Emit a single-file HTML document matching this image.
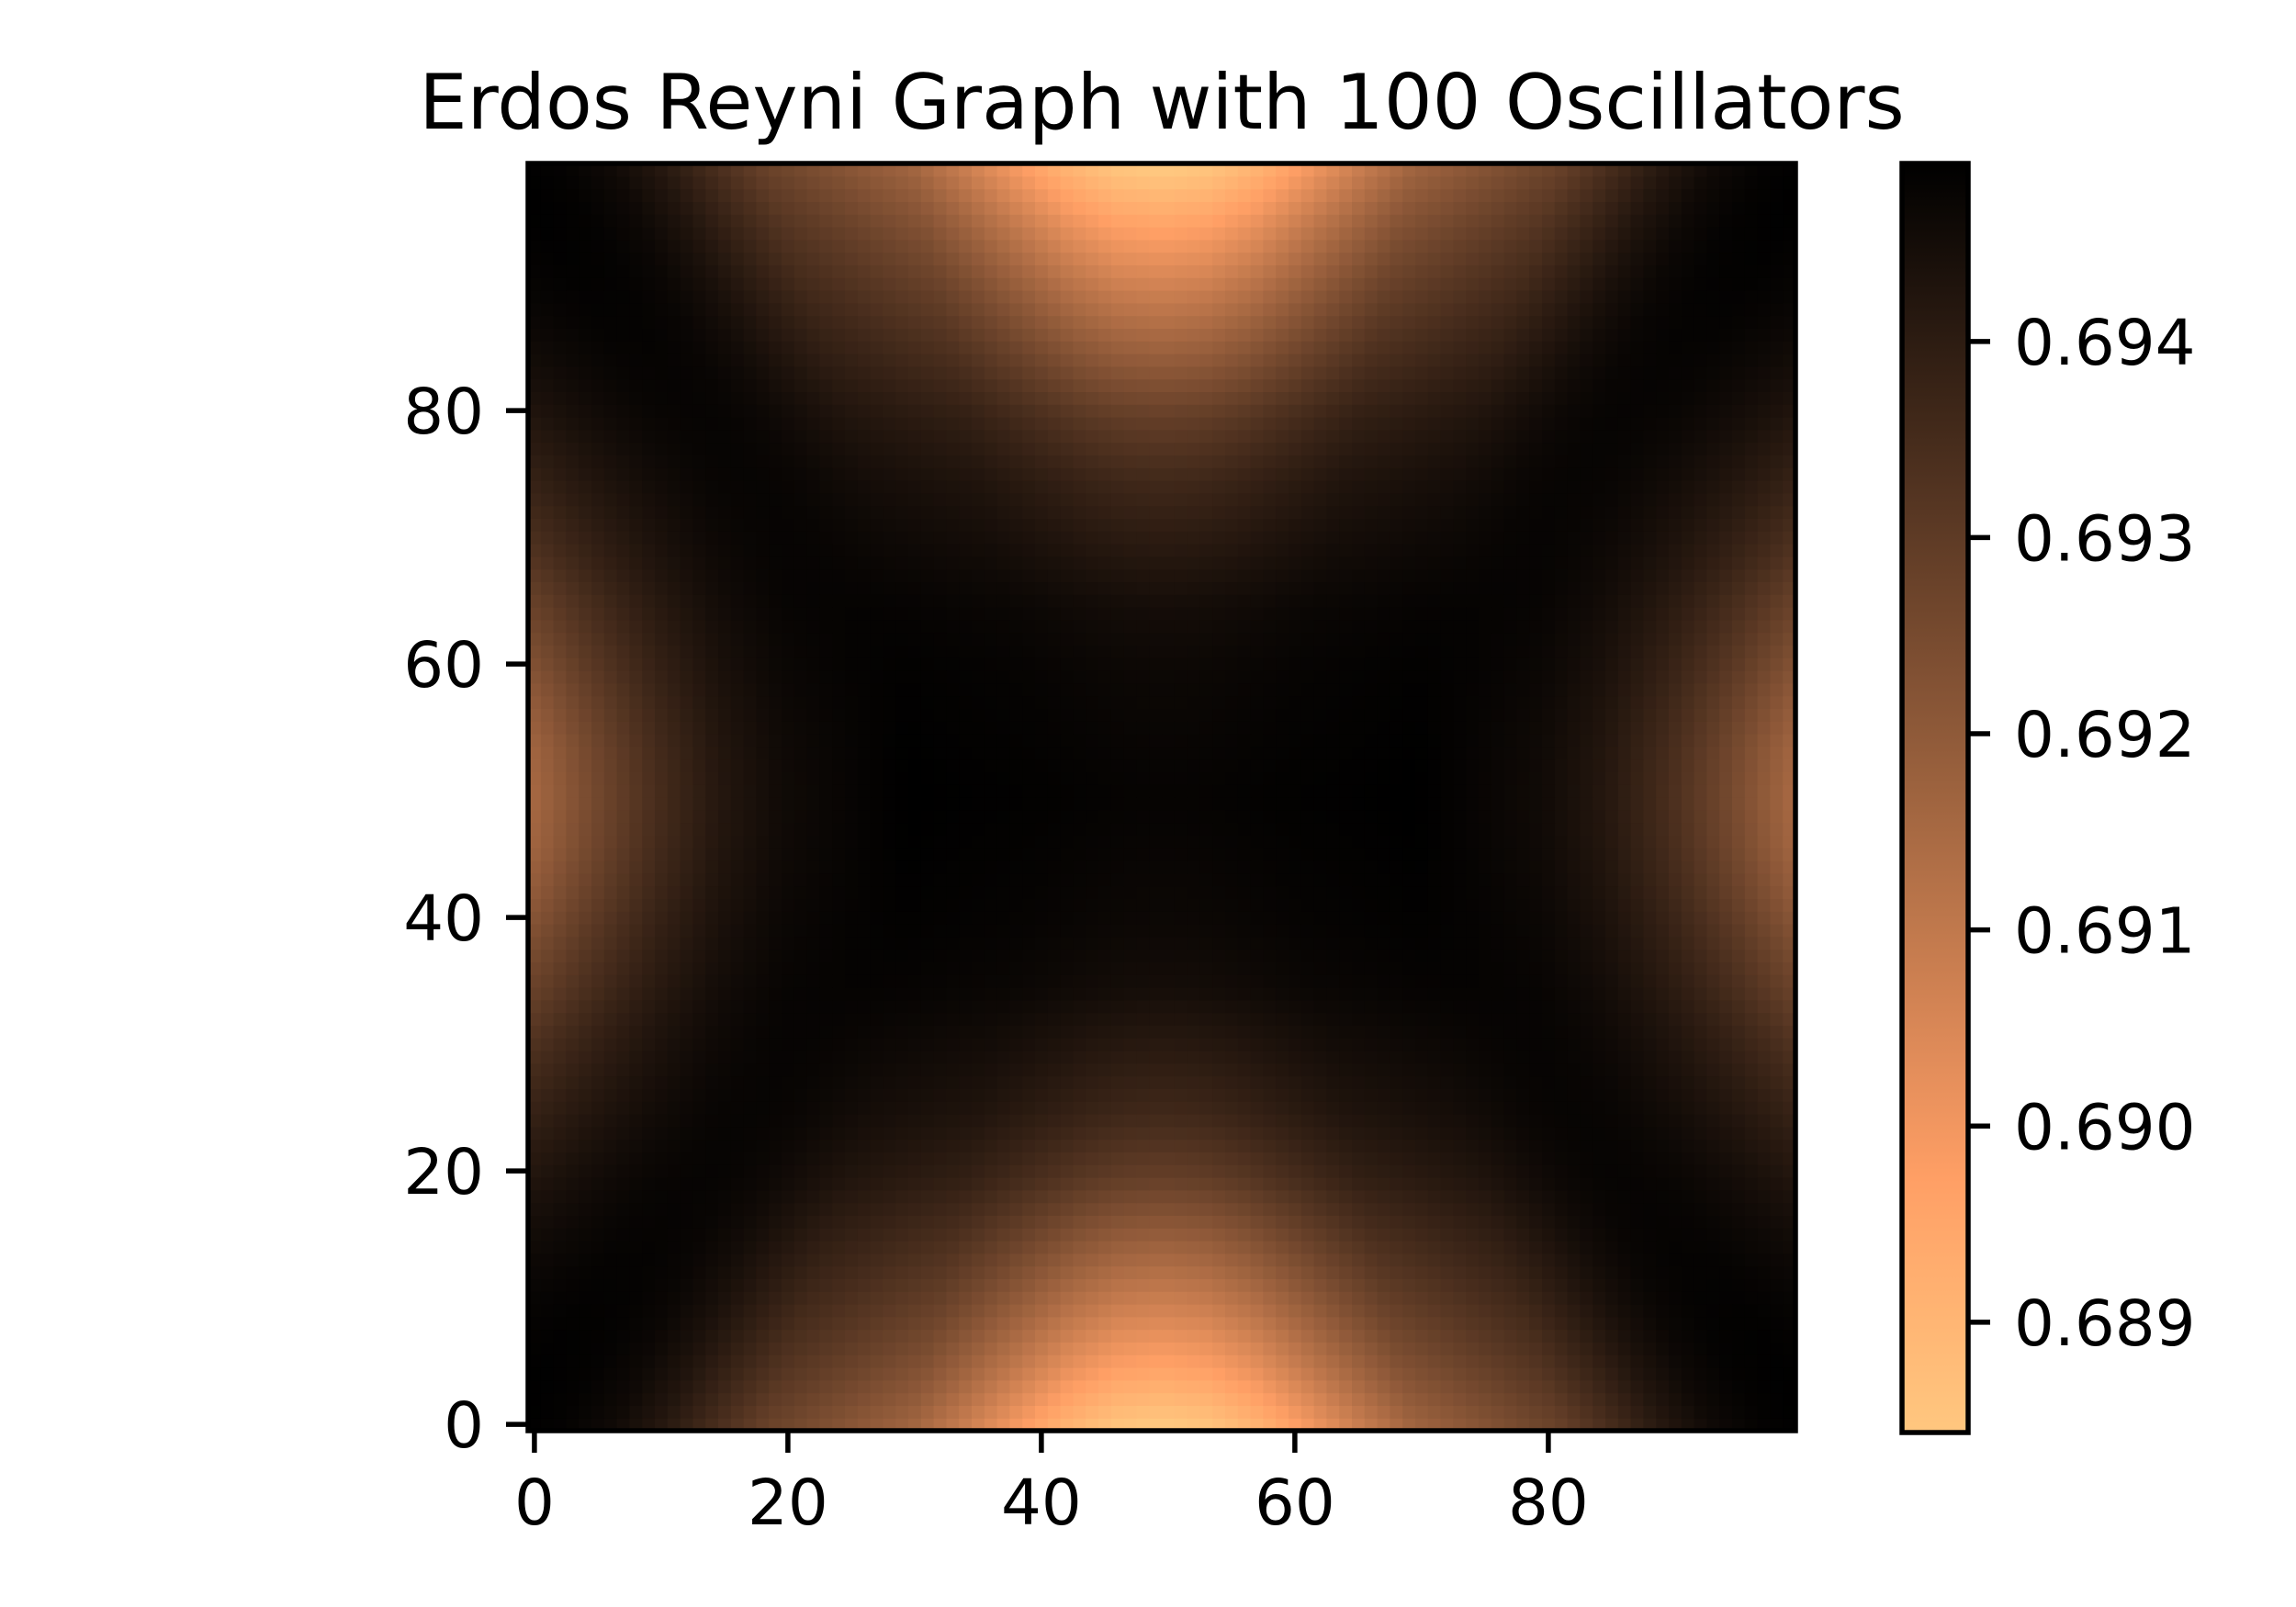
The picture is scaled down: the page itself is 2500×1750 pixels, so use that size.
<!DOCTYPE html>
<html><head><meta charset="utf-8"><style>
html,body{margin:0;padding:0;background:#fff;}
svg{display:block;font-family:"DejaVu Sans","Liberation Sans",sans-serif;}
</style></head><body>
<svg id="chart" width="2500" height="1750" viewBox="0 0 2500 1750" xmlns="http://www.w3.org/2000/svg">
<defs><linearGradient id="cbgrad" x1="0" y1="1" x2="0" y2="0"></linearGradient></defs>
<text x="1265" y="140" font-size="83" text-anchor="middle" fill="#000">Erdos Reyni Graph with 100 Oscillators</text>
<g id="cells"></g>
<g id="axes"></g>
<g id="cbar"></g>
</svg>
<script>
// Profiles.
// top/bottom lobe: strength vs distance from centre row (steps of 5 cells), and shape across (steps of 0.1 of lobe half-width)
const tbStrength = [0.02,0.03,0.04,0.065,0.13,0.2,0.31,0.47,0.63,0.8,1];
const tbShape = [1,0.97,0.88,0.75,0.62,0.5,0.44,0.38,0.32,0.22,0.12,0.05,0.015,0];
// left/right lobe: strength vs distance from centre column, and shape along
const lrStrength = [0,0,0,0,0,0.05,0.1,0.22,0.43,0.7,1];
const lrShape = [1,0.96,0.86,0.73,0.61,0.47,0.36,0.26,0.17,0.1,0.05,0.02,0.005,0];
const baseValue = 0.69492;
const lobeDepth = 0.00664;
const sideLobeRatio = 0.52;
const gridSize = 100;
const xTicks = [0,20,40,60,80];
const yTicks = [0,20,40,60,80];
const cbTicks = [0.689,0.690,0.691,0.692,0.693,0.694];
const cbTickLabels = ["0.689","0.690","0.691","0.692","0.693","0.694"];

const N = gridSize, c = (N-1)/2;
function look(tab,p){ p=Math.max(0,p); if(p>=tab.length-1) return tab[tab.length-1];
  const i=Math.floor(p), f=p-i; return tab[i]*(1-f)+tab[i+1]*f; }
const halfWidth = a => 18.5 + 0.42*a;
const values = [];
for (let y=0;y<N;y++){ const row=[]; for(let x=0;x<N;x++){
  const ax=Math.abs(x-c), ay=Math.abs(y-c);
  const tb = look(tbStrength, ay/5) * look(tbShape, 10*ax/halfWidth(ay));
  const lr = look(lrStrength, ax/5) * look(lrShape, 10*ay/halfWidth(ax));
  row.push(baseValue - lobeDepth*(tb + sideLobeRatio*lr)); } values.push(row); }
let vmin=Infinity,vmax=-Infinity;
values.forEach(r=>r.forEach(v=>{if(v<vmin)vmin=v;if(v>vmax)vmax=v;}));

const PL=575,PT=178,PW=1380,PH=1380;
const cw=PW/N, ch=PH/N;
const xs = i => PL + i*cw;
const ys = j => PT + (N-1-j)*ch;
function cmap(v){ let t=(v-vmin)/(vmax-vmin); t=Math.max(0,Math.min(1,t)); const x=1-t;
  const r=Math.min(1,1.25*x)*255, g=0.7812*x*255, b=0.4975*x*255;
  return `rgb(${Math.round(r)},${Math.round(g)},${Math.round(b)})`; }
const NS="http://www.w3.org/2000/svg";
const cells=document.getElementById('cells');
for(let j=0;j<N;j++)for(let i=0;i<N;i++){
  const r=document.createElementNS(NS,'rect');
  r.setAttribute('x',xs(i).toFixed(2)); r.setAttribute('y',ys(j).toFixed(2));
  r.setAttribute('width',(cw+0.6).toFixed(2)); r.setAttribute('height',(ch+0.6).toFixed(2));
  r.setAttribute('fill',cmap(values[j][i]));
  
  
  cells.appendChild(r);
}
const axes=document.getElementById('axes');
function add(parent,tag,attrs,text){ const e=document.createElementNS(NS,tag); for(const k in attrs)e.setAttribute(k,attrs[k]); if(text!==undefined)e.textContent=text; parent.appendChild(e); return e; }
const frame=add(axes,'rect',{x:PL,y:PT,width:PW,height:PH,fill:'none',stroke:'#000','stroke-width':5.5});


xTicks.forEach(t=>{ const cx=xs(t)+cw/2;
  const l=add(axes,'line',{x1:cx,y1:PT+PH,x2:cx,y2:PT+PH+24,stroke:'#000','stroke-width':5.5});
  
  
  const tx=add(axes,'text',{x:cx,y:1660,'font-size':69,'text-anchor':'middle',fill:'#000'},String(t));
  
  
});
yTicks.forEach(t=>{ const cy=ys(t)+ch/2;
  const l=add(axes,'line',{x1:PL-24,y1:cy,x2:PL,y2:cy,stroke:'#000','stroke-width':5.5});
  
  
  const tx=add(axes,'text',{x:527,y:cy+25,'font-size':69,'text-anchor':'end',fill:'#000'},String(t));
  
  
});
const CL=2071,CT=178,CW=72,CH=1382;
const cbY = v => CT + CH*(1-(v-vmin)/(vmax-vmin));
const grad=document.getElementById('cbgrad');
for(let k=0;k<=20;k++){ const v=vmin+(vmax-vmin)*k/20; add(grad,'stop',{offset:(k/20),'stop-color':cmap(v)}); }
const cbar=document.getElementById('cbar');
const cbr=add(cbar,'rect',{x:CL,y:CT,width:CW,height:CH,fill:'url(#cbgrad)',stroke:'#000','stroke-width':5.5});


cbTicks.forEach((t,k)=>{ const cy=cbY(t);
  const l=add(cbar,'line',{x1:CL+CW,y1:cy,x2:CL+CW+24,y2:cy,stroke:'#000','stroke-width':5.5});
  
  
  const tx=add(cbar,'text',{x:2193,y:cy+25,'font-size':69,fill:'#000'},cbTickLabels[k]);
  
  
});
</script>
</body></html>
